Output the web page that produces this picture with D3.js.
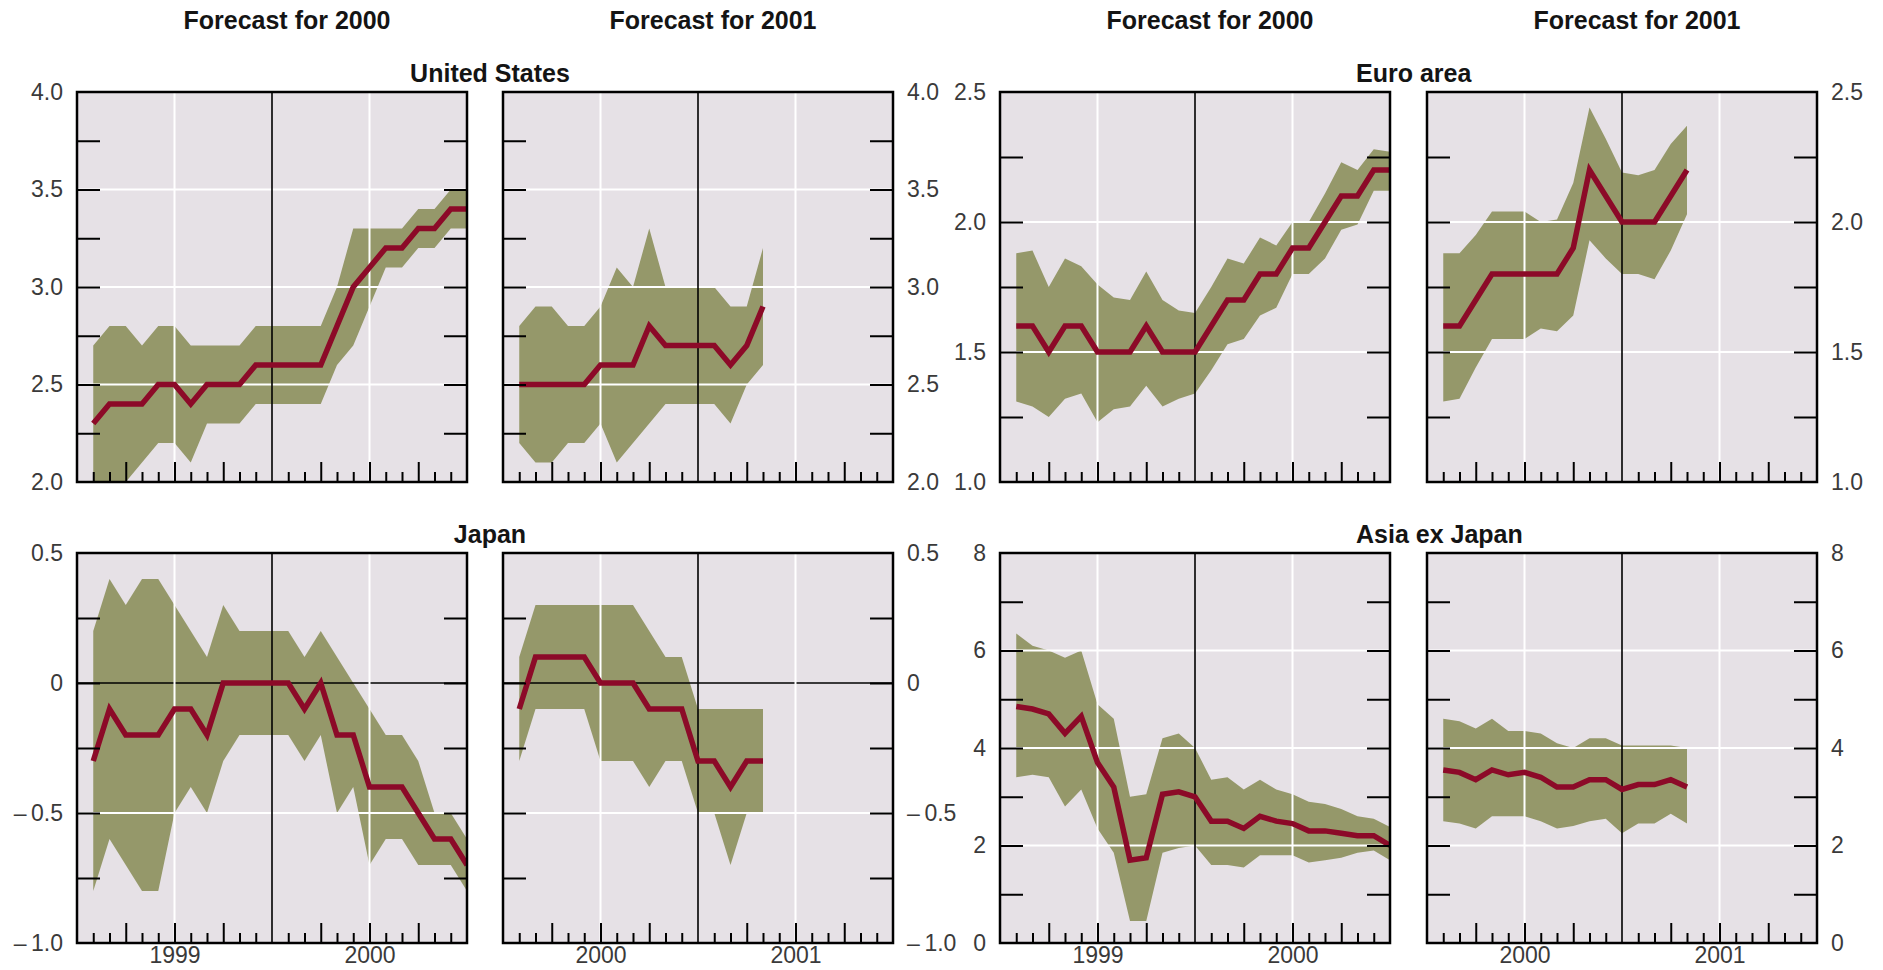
<!DOCTYPE html>
<html>
<head>
<meta charset="utf-8">
<title>Consensus forecasts: mean and range</title>
<script src="https://cdn.jsdelivr.net/npm/d3@7"></script>
<style>
  body { margin: 0; background: #ffffff; }
  svg { display: block; }
</style>
</head>
<body>
<svg id="chart" width="1883" height="970"></svg>
<script>
// ---- Data: monthly survey readings (index 1..n within a 24-month window) ----

// United States, forecast for 2000 (surveys Jan 1999 – Dec 2000)
const usMean2000 = [2.3, 2.4, 2.4, 2.4, 2.5, 2.5, 2.4, 2.5, 2.5, 2.5, 2.6, 2.6, 2.6, 2.6, 2.6, 2.8, 3.0, 3.1, 3.2, 3.2, 3.3, 3.3, 3.4, 3.4];
const usHigh2000 = [2.7, 2.8, 2.8, 2.7, 2.8, 2.8, 2.7, 2.7, 2.7, 2.7, 2.8, 2.8, 2.8, 2.8, 2.8, 3.0, 3.3, 3.3, 3.3, 3.3, 3.4, 3.4, 3.5, 3.5];
const usLow2000  = [1.9, 1.9, 2.0, 2.1, 2.2, 2.2, 2.1, 2.3, 2.3, 2.3, 2.4, 2.4, 2.4, 2.4, 2.4, 2.6, 2.7, 2.9, 3.1, 3.1, 3.2, 3.2, 3.3, 3.3];

// United States, forecast for 2001 (surveys Jan 2000 – Apr 2001)
const usMean2001 = [2.5, 2.5, 2.5, 2.5, 2.5, 2.6, 2.6, 2.6, 2.8, 2.7, 2.7, 2.7, 2.7, 2.6, 2.7, 2.9];
const usHigh2001 = [2.8, 2.9, 2.9, 2.8, 2.8, 2.9, 3.1, 3.0, 3.3, 3.0, 3.0, 3.0, 3.0, 2.9, 2.9, 3.2];
const usLow2001  = [2.2, 2.1, 2.1, 2.2, 2.2, 2.3, 2.1, 2.2, 2.3, 2.4, 2.4, 2.4, 2.4, 2.3, 2.5, 2.6];

// Euro area
const euMean2000 = [1.6, 1.6, 1.5, 1.6, 1.6, 1.5, 1.5, 1.5, 1.6, 1.5, 1.5, 1.5, 1.6, 1.7, 1.7, 1.8, 1.8, 1.9, 1.9, 2.0, 2.1, 2.1, 2.2, 2.2];
const euHigh2000 = [1.88, 1.89, 1.75, 1.86, 1.83, 1.76, 1.71, 1.70, 1.81, 1.70, 1.66, 1.65, 1.75, 1.86, 1.84, 1.94, 1.91, 2.0, 2.0, 2.11, 2.23, 2.2, 2.28, 2.27];
const euLow2000  = [1.31, 1.29, 1.25, 1.32, 1.34, 1.23, 1.28, 1.29, 1.37, 1.29, 1.32, 1.34, 1.43, 1.53, 1.55, 1.64, 1.67, 1.8, 1.8, 1.86, 1.97, 1.99, 2.12, 2.12];

const euMean2001 = [1.6, 1.6, 1.7, 1.8, 1.8, 1.8, 1.8, 1.8, 1.9, 2.2, 2.1, 2.0, 2.0, 2.0, 2.1, 2.2];
const euHigh2001 = [1.88, 1.88, 1.95, 2.04, 2.04, 2.04, 2.0, 2.01, 2.15, 2.44, 2.32, 2.19, 2.18, 2.2, 2.3, 2.37];
const euLow2001  = [1.31, 1.32, 1.44, 1.55, 1.55, 1.55, 1.59, 1.58, 1.64, 1.93, 1.86, 1.8, 1.8, 1.78, 1.89, 2.03];

// Japan
const jpMean2000 = [-0.3, -0.1, -0.2, -0.2, -0.2, -0.1, -0.1, -0.2, 0, 0, 0, 0, 0, -0.1, 0, -0.2, -0.2, -0.4, -0.4, -0.4, -0.5, -0.6, -0.6, -0.7];
const jpHigh2000 = [0.2, 0.4, 0.3, 0.4, 0.4, 0.3, 0.2, 0.1, 0.3, 0.2, 0.2, 0.2, 0.2, 0.1, 0.2, 0.1, 0.0, -0.1, -0.2, -0.2, -0.3, -0.5, -0.5, -0.6];
const jpLow2000  = [-0.8, -0.6, -0.7, -0.8, -0.8, -0.5, -0.4, -0.5, -0.3, -0.2, -0.2, -0.2, -0.2, -0.3, -0.2, -0.5, -0.4, -0.7, -0.6, -0.6, -0.7, -0.7, -0.7, -0.8];

const jpMean2001 = [-0.1, 0.1, 0.1, 0.1, 0.1, 0, 0, 0, -0.1, -0.1, -0.1, -0.3, -0.3, -0.4, -0.3, -0.3];
const jpHigh2001 = [0.1, 0.3, 0.3, 0.3, 0.3, 0.3, 0.3, 0.3, 0.2, 0.1, 0.1, -0.1, -0.1, -0.1, -0.1, -0.1];
const jpLow2001  = [-0.3, -0.1, -0.1, -0.1, -0.1, -0.3, -0.3, -0.3, -0.4, -0.3, -0.3, -0.5, -0.5, -0.7, -0.5, -0.5];

// Asia ex Japan
const asMean2000 = [4.85, 4.8, 4.7, 4.3, 4.65, 3.7, 3.2, 1.7, 1.75, 3.05, 3.1, 3.0, 2.5, 2.5, 2.35, 2.6, 2.5, 2.45, 2.3, 2.3, 2.25, 2.2, 2.2, 2.0];
const asHigh2000 = [6.35, 6.1, 6.0, 5.85, 6.0, 4.9, 4.6, 3.0, 3.05, 4.2, 4.3, 4.0, 3.35, 3.4, 3.15, 3.35, 3.15, 3.05, 2.9, 2.85, 2.75, 2.6, 2.55, 2.38];
const asLow2000  = [3.4, 3.45, 3.4, 2.8, 3.15, 2.35, 1.85, 0.45, 0.45, 1.85, 1.95, 2.0, 1.6, 1.6, 1.55, 1.8, 1.8, 1.8, 1.65, 1.7, 1.75, 1.85, 1.9, 1.7];

const asMean2001 = [3.55, 3.5, 3.35, 3.55, 3.45, 3.5, 3.4, 3.2, 3.2, 3.35, 3.35, 3.15, 3.25, 3.25, 3.35, 3.2];
const asHigh2001 = [4.6, 4.55, 4.4, 4.6, 4.35, 4.35, 4.3, 4.1, 4.0, 4.2, 4.2, 4.05, 4.05, 4.05, 4.05, 4.0];
const asLow2001  = [2.5, 2.45, 2.35, 2.6, 2.6, 2.6, 2.5, 2.35, 2.4, 2.5, 2.55, 2.25, 2.45, 2.45, 2.65, 2.45];

// ---- Axis labels ----
const regionNames = ["United States", "Euro area", "Japan", "Asia ex Japan"];
const columnTitles = ["Forecast for 2000", "Forecast for 2001", "Forecast for 2000", "Forecast for 2001"];
const yearLabels2000 = ["1999", "2000"];
const yearLabels2001 = ["2000", "2001"];

const usTickValues = [2.0, 2.5, 3.0, 3.5, 4.0];
const usTickLabels = ["2.0", "2.5", "3.0", "3.5", "4.0"];
const euTickValues = [1.0, 1.5, 2.0, 2.5];
const euTickLabels = ["1.0", "1.5", "2.0", "2.5"];
const jpTickValues = [-1.0, -0.5, 0, 0.5];
const jpTickLabels = ["\u2013\u20091.0", "\u2013\u20090.5", "0", "0.5"];
const asTickValues = [0, 2, 4, 6, 8];
const asTickLabels = ["0", "2", "4", "6", "8"];

// ---- Layout and style ----
const colLeft = [77, 503, 1000, 1427];
const rowTop = [92, 553];
const W = 390, H = 390;
const MONTHS = 24;

const COLOR_BG = "#e6e1e6";
const COLOR_BAND = "#95986a";
const COLOR_LINE = "#8c0a28";
const COLOR_TEXT = "#3a3a3a";
const FONT = "'Liberation Sans', Arial, Helvetica, sans-serif";

const svg = d3.select("#chart");

const groups = [
  { row: 0, cols: [0, 1], name: regionNames[0], nameX: 490, anchor: "middle",
    domain: [2.0, 4.0], minorStep: 0.25, ticks: usTickValues, labels: usTickLabels,
    series: [[usMean2000, usHigh2000, usLow2000], [usMean2001, usHigh2001, usLow2001]] },
  { row: 0, cols: [2, 3], name: regionNames[1], nameX: 1356, anchor: "start",
    domain: [1.0, 2.5], minorStep: 0.25, ticks: euTickValues, labels: euTickLabels,
    series: [[euMean2000, euHigh2000, euLow2000], [euMean2001, euHigh2001, euLow2001]] },
  { row: 1, cols: [0, 1], name: regionNames[2], nameX: 490, anchor: "middle",
    domain: [-1.0, 0.5], minorStep: 0.25, ticks: jpTickValues, labels: jpTickLabels,
    series: [[jpMean2000, jpHigh2000, jpLow2000], [jpMean2001, jpHigh2001, jpLow2001]] },
  { row: 1, cols: [2, 3], name: regionNames[3], nameX: 1356, anchor: "start",
    domain: [0, 8], minorStep: 1, ticks: asTickValues, labels: asTickLabels,
    series: [[asMean2000, asHigh2000, asLow2000], [asMean2001, asHigh2001, asLow2001]] }
];

// Column headings
columnTitles.forEach((t, c) => {
  svg.append("text")
    .attr("x", colLeft[c] + W / 2 + 15)
    .attr("y", 29)
    .attr("text-anchor", "middle")
    .attr("font-family", FONT)
    .attr("font-size", 25)
    .attr("font-weight", "bold")
    .attr("fill", "#141414")
    .text(t);
});

let clipCount = 0;

function drawPanel(group, k) {
  const col = group.cols[k];
  const [mean, high, low] = group.series[k];
  const x0 = colLeft[col], y0 = rowTop[group.row];
  const x = d3.scaleLinear().domain([0, MONTHS]).range([x0, x0 + W]);
  const y = d3.scaleLinear().domain(group.domain).range([y0 + H, y0]);
  const g = svg.append("g");

  const clipId = "clip" + (clipCount++);
  g.append("clipPath").attr("id", clipId)
    .append("rect").attr("x", x0).attr("y", y0).attr("width", W).attr("height", H);

  // plot background
  g.append("rect").attr("x", x0).attr("y", y0).attr("width", W).attr("height", H)
    .attr("fill", COLOR_BG);

  const body = g.append("g").attr("clip-path", `url(#${clipId})`);

  // forecast range
  const area = d3.area()
    .x((d, i) => x(i + 1))
    .y0((d, i) => y(low[i]))
    .y1((d, i) => y(high[i]));
  body.append("path").datum(mean).attr("d", area).attr("fill", COLOR_BAND);

  // grid lines
  const [lo, hi] = group.domain;
  const inner = group.ticks.filter(v => v > lo && v < hi);
  body.selectAll("line.hgrid").data(inner).join("line")
    .attr("x1", x0).attr("x2", x0 + W)
    .attr("y1", d => y(d)).attr("y2", d => y(d))
    .attr("stroke", d => d === 0 ? "#000" : "#ffffff")
    .attr("stroke-width", d => d === 0 ? 1.6 : 2);
  body.selectAll("line.vgrid").data([6, 18]).join("line")
    .attr("x1", d => x(d)).attr("x2", d => x(d))
    .attr("y1", y0).attr("y2", y0 + H)
    .attr("stroke", "#ffffff").attr("stroke-width", 2);
  body.append("line")
    .attr("x1", x(12)).attr("x2", x(12)).attr("y1", y0).attr("y2", y0 + H)
    .attr("stroke", "#000").attr("stroke-width", 1.6);

  // mean forecast
  const line = d3.line().x((d, i) => x(i + 1)).y(d => y(d));
  body.append("path").datum(mean).attr("d", line)
    .attr("fill", "none").attr("stroke", COLOR_LINE).attr("stroke-width", 5.5)
    .attr("stroke-linejoin", "miter").attr("stroke-miterlimit", 3);

  // inward tick marks
  const styleTicks = sel => {
    sel.select(".domain").remove();
    sel.selectAll(".tick line").attr("stroke", "#000").attr("stroke-width", 2);
    sel.selectAll(".tick text").remove();
  };
  const minorY = d3.range(lo + group.minorStep, hi - group.minorStep / 2, group.minorStep);
  g.append("g").attr("transform", `translate(${x0},0)`)
    .call(d3.axisLeft(y).tickValues(minorY).tickSizeInner(-23).tickSizeOuter(0))
    .call(styleTicks);
  g.append("g").attr("transform", `translate(${x0 + W},0)`)
    .call(d3.axisRight(y).tickValues(minorY).tickSizeInner(-23).tickSizeOuter(0))
    .call(styleTicks);

  const months = d3.range(1, MONTHS);
  const major = months.filter(m => m % 3 === 0 && m !== 12);
  const minor = months.filter(m => m % 3 !== 0);
  g.append("g").attr("transform", `translate(0,${y0 + H})`)
    .call(d3.axisBottom(x).tickValues(minor).tickSizeInner(-10).tickSizeOuter(0))
    .call(styleTicks);
  g.append("g").attr("transform", `translate(0,${y0 + H})`)
    .call(d3.axisBottom(x).tickValues(major).tickSizeInner(-20).tickSizeOuter(0))
    .call(styleTicks);

  // frame
  g.append("rect").attr("x", x0).attr("y", y0).attr("width", W).attr("height", H)
    .attr("fill", "none").attr("stroke", "#000").attr("stroke-width", 2.5);

  // value labels on the outer side of each pair
  const styleLabels = sel => {
    sel.select(".domain").remove();
    sel.selectAll(".tick line").remove();
    sel.selectAll(".tick text")
      .attr("font-family", FONT).attr("font-size", 23).attr("fill", COLOR_TEXT);
    sel.attr("font-family", null).attr("font-size", null);
  };
  const fmt = v => group.labels[group.ticks.indexOf(v)];
  if (k === 0) {
    g.append("g").attr("transform", `translate(${x0},0)`)
      .call(d3.axisLeft(y).tickValues(group.ticks).tickFormat(fmt).tickSize(0).tickPadding(14))
      .call(styleLabels);
  } else {
    g.append("g").attr("transform", `translate(${x0 + W},0)`)
      .call(d3.axisRight(y).tickValues(group.ticks).tickFormat(fmt).tickSize(0).tickPadding(14))
      .call(styleLabels);
  }

  // year labels under the bottom row
  if (group.row === 1) {
    const years = k === 0 ? yearLabels2000 : yearLabels2001;
    g.append("g").attr("transform", `translate(0,${y0 + H})`)
      .call(d3.axisBottom(x).tickValues([6, 18]).tickFormat((d, i) => years[i]).tickSize(0).tickPadding(4))
      .call(styleLabels);
  }
}

groups.forEach(group => {
  group.cols.forEach((c, k) => drawPanel(group, k));
  svg.append("text")
    .attr("x", group.nameX)
    .attr("y", rowTop[group.row] - 10)
    .attr("text-anchor", group.anchor)
    .attr("font-family", FONT)
    .attr("font-size", 25)
    .attr("font-weight", "bold")
    .attr("fill", "#141414")
    .text(group.name);
});
</script>
</body>
</html>
